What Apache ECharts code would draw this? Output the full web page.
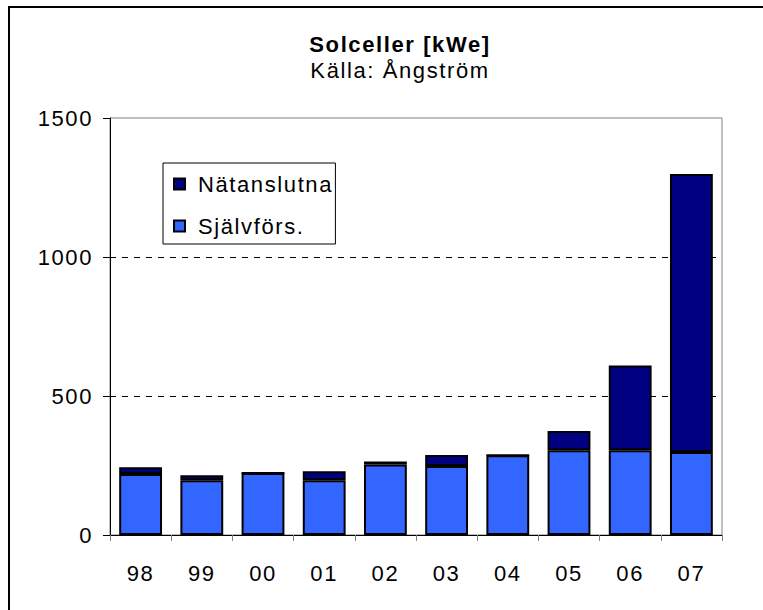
<!DOCTYPE html>
<html>
<head>
<meta charset="utf-8">
<script src="https://cdn.jsdelivr.net/npm/echarts@6/dist/echarts.min.js"></script>
<style>
  html, body { margin: 0; padding: 0; background: #fff; }
  #chart { width: 763px; height: 610px; }
  /* Excel-liknande bred teckenavstånd */
  #chart svg text { letter-spacing: 1.6px; }
</style>
</head>
<body>
<div id="chart"></div>
<script>
// årtal (kategorier)
const years = ['98', '99', '00', '01', '02', '03', '04', '05', '06', '07'];
// självförsörjande system [kWe]
const sjalvfors = [219, 197, 223, 197, 254, 248, 287, 305, 305, 299];
// nätanslutna system [kWe]
const natanslutna = [25, 18, 0, 32, 10, 40, 0, 69, 305, 1000];
const yTicks = [0, 500, 1000, 1500];

const font = 'Liberation Sans, Arial, sans-serif';

const chart = echarts.init(document.getElementById('chart'), null, { renderer: 'svg' });

const option = {
  backgroundColor: '#fff',
  animation: false,
  textStyle: { fontFamily: font },
  title: {
    text: 'Solceller [kWe]',
    subtext: 'Källa: Ångström',
    left: 395,
    top: 28,
    textAlign: 'center',
    itemGap: 4,
    textStyle: { fontSize: 22, fontWeight: 'bold', color: '#000', fontFamily: font },
    subtextStyle: { fontSize: 22, color: '#000', fontFamily: font }
  },
  legend: {
    data: ['Nätanslutna', 'Självförs.'],
    orient: 'vertical',
    left: 163,
    top: 163,
    padding: [10, 20, 7, 10],
    itemGap: 20,
    itemWidth: 11,
    itemHeight: 11,
    borderColor: '#000',
    borderWidth: 1,
    icon: 'rect',
    textStyle: { fontSize: 22, color: '#000', fontFamily: font, padding: [0, 0, 0, 8] }
  },
  grid: {
    left: 110,
    right: 41,
    top: 118,
    bottom: 75,
    show: true,
    borderColor: '#808080',
    borderWidth: 1
  },
  xAxis: {
    type: 'category',
    data: years,
    axisLine: { show: true, lineStyle: { color: '#000', width: 1 } },
    axisTick: { show: true, alignWithLabel: false, length: 6, lineStyle: { color: '#808080' } },
    axisLabel: { fontSize: 22, color: '#000', margin: 27, fontFamily: font }
  },
  yAxis: {
    type: 'value',
    min: yTicks[0],
    max: yTicks[yTicks.length - 1],
    interval: 500,
    axisLine: { show: true, lineStyle: { color: '#000', width: 1 } },
    axisTick: { show: true, length: 7, lineStyle: { color: '#000' } },
    axisLabel: { fontSize: 22, color: '#000', margin: 17, fontFamily: font, formatter: v => String(v) },
    splitLine: {
      show: true,
      lineStyle: { color: ['transparent', '#000', '#000', 'transparent'], type: [6, 6], width: 1 }
    }
  },
  series: [
    {
      name: 'Självförs.',
      type: 'bar',
      stack: 'tot',
      barWidth: '70%',
      data: sjalvfors,
      itemStyle: { color: '#3366FF', borderColor: '#000', borderWidth: 2 }
    },
    {
      name: 'Nätanslutna',
      type: 'bar',
      stack: 'tot',
      barWidth: '70%',
      data: natanslutna,
      itemStyle: { color: '#000080', borderColor: '#000', borderWidth: 2 }
    }
  ],
  graphic: [
    {
      type: 'polyline',
      shape: { points: [[9, 620], [9, 7], [770, 7]] },
      style: { stroke: '#000', lineWidth: 2, fill: null }
    }
  ]
};

chart.setOption(option);
</script>
</body>
</html>
